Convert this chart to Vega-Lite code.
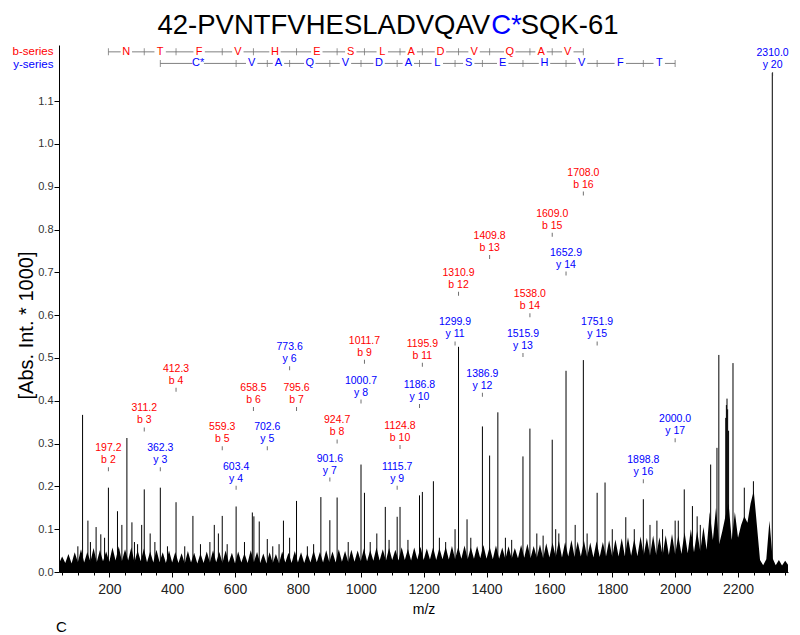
{
  "$schema": "https://vega.github.io/schema/vega-lite/v6.json",
  "background": "white",
  "padding": {"left": 16, "top": 11, "right": 4, "bottom": 4},
  "config": {
    "font": "Liberation Sans",
    "view": {"stroke": null},
    "axis": {"grid": false, "domainColor": "#000", "tickColor": "#000", "labelFont": "Liberation Sans", "titleFont": "Liberation Sans", "titleColor": "#000"},
    "text": {"font": "Liberation Sans"},
    "legend": {"labelFont": "Liberation Sans"},
    "title": {"font": "Liberation Sans"}
  },
  "title": {"text": "C", "orient": "bottom", "anchor": "start", "fontSize": 15, "fontWeight": "normal", "color": "#000", "dx": 40, "offset": 4},
  "resolve": {"scale": {"color": "independent"}},
  "datasets": {
    "ions": [
      {"mz": 197.2, "ion": "b 2", "s": "b", "h": 0.240},
      {"mz": 311.2, "ion": "b 3", "s": "b", "h": 0.333},
      {"mz": 412.3, "ion": "b 4", "s": "b", "h": 0.426},
      {"mz": 559.3, "ion": "b 5", "s": "b", "h": 0.289},
      {"mz": 658.5, "ion": "b 6", "s": "b", "h": 0.381},
      {"mz": 795.6, "ion": "b 7", "s": "b", "h": 0.381},
      {"mz": 924.7, "ion": "b 8", "s": "b", "h": 0.305},
      {"mz": 1011.7, "ion": "b 9", "s": "b", "h": 0.491},
      {"mz": 1124.8, "ion": "b 10", "s": "b", "h": 0.292},
      {"mz": 1195.9, "ion": "b 11", "s": "b", "h": 0.484},
      {"mz": 1310.9, "ion": "b 12", "s": "b", "h": 0.650},
      {"mz": 1409.8, "ion": "b 13", "s": "b", "h": 0.736},
      {"mz": 1538.0, "ion": "b 14", "s": "b", "h": 0.600},
      {"mz": 1609.0, "ion": "b 15", "s": "b", "h": 0.788},
      {"mz": 1708.0, "ion": "b 16", "s": "b", "h": 0.884},
      {"mz": 362.3, "ion": "y 3", "s": "y", "h": 0.240},
      {"mz": 603.4, "ion": "y 4", "s": "y", "h": 0.197},
      {"mz": 702.6, "ion": "y 5", "s": "y", "h": 0.289},
      {"mz": 773.6, "ion": "y 6", "s": "y", "h": 0.476},
      {"mz": 901.6, "ion": "y 7", "s": "y", "h": 0.216},
      {"mz": 1000.7, "ion": "y 8", "s": "y", "h": 0.398},
      {"mz": 1115.7, "ion": "y 9", "s": "y", "h": 0.197},
      {"mz": 1186.8, "ion": "y 10", "s": "y", "h": 0.388},
      {"mz": 1299.9, "ion": "y 11", "s": "y", "h": 0.534},
      {"mz": 1386.9, "ion": "y 12", "s": "y", "h": 0.414},
      {"mz": 1515.9, "ion": "y 13", "s": "y", "h": 0.507},
      {"mz": 1652.9, "ion": "y 14", "s": "y", "h": 0.697},
      {"mz": 1751.9, "ion": "y 15", "s": "y", "h": 0.534},
      {"mz": 1898.8, "ion": "y 16", "s": "y", "h": 0.212},
      {"mz": 2000.0, "ion": "y 17", "s": "y", "h": 0.308},
      {"mz": 2310.0, "ion": "y 20", "s": "y", "h": 1.163}
    ],
    "residues": [
      {"r": "N", "s": "b", "from": 197.2, "to": 311.2},
      {"r": "T", "s": "b", "from": 311.2, "to": 412.3},
      {"r": "F", "s": "b", "from": 412.3, "to": 559.3},
      {"r": "V", "s": "b", "from": 559.3, "to": 658.5},
      {"r": "H", "s": "b", "from": 658.5, "to": 795.6},
      {"r": "E", "s": "b", "from": 795.6, "to": 924.7},
      {"r": "S", "s": "b", "from": 924.7, "to": 1011.7},
      {"r": "L", "s": "b", "from": 1011.7, "to": 1124.8},
      {"r": "A", "s": "b", "from": 1124.8, "to": 1195.9},
      {"r": "D", "s": "b", "from": 1195.9, "to": 1310.9},
      {"r": "V", "s": "b", "from": 1310.9, "to": 1409.8},
      {"r": "Q", "s": "b", "from": 1409.8, "to": 1538.0},
      {"r": "A", "s": "b", "from": 1538.0, "to": 1609.0},
      {"r": "V", "s": "b", "from": 1609.0, "to": 1708.0},
      {"r": "C*", "s": "y", "from": 362.3, "to": 603.4},
      {"r": "V", "s": "y", "from": 603.4, "to": 702.6},
      {"r": "A", "s": "y", "from": 702.6, "to": 773.6},
      {"r": "Q", "s": "y", "from": 773.6, "to": 901.6},
      {"r": "V", "s": "y", "from": 901.6, "to": 1000.7},
      {"r": "D", "s": "y", "from": 1000.7, "to": 1115.7},
      {"r": "A", "s": "y", "from": 1115.7, "to": 1186.8},
      {"r": "L", "s": "y", "from": 1186.8, "to": 1299.9},
      {"r": "S", "s": "y", "from": 1299.9, "to": 1386.9},
      {"r": "E", "s": "y", "from": 1386.9, "to": 1515.9},
      {"r": "H", "s": "y", "from": 1515.9, "to": 1652.9},
      {"r": "V", "s": "y", "from": 1652.9, "to": 1751.9},
      {"r": "F", "s": "y", "from": 1751.9, "to": 1898.8},
      {"r": "T", "s": "y", "from": 1898.8, "to": 2000.0}
    ],
    "peaks": [
      {"mz": 115, "i": 0.367}, {"mz": 132, "i": 0.12}, {"mz": 158, "i": 0.105}, {"mz": 173, "i": 0.088},
      {"mz": 197.2, "i": 0.197}, {"mz": 226, "i": 0.142}, {"mz": 240, "i": 0.11}, {"mz": 256, "i": 0.313},
      {"mz": 272, "i": 0.116}, {"mz": 303, "i": 0.11}, {"mz": 311.2, "i": 0.193}, {"mz": 330, "i": 0.09},
      {"mz": 362.3, "i": 0.197}, {"mz": 412.3, "i": 0.163}, {"mz": 466, "i": 0.131}, {"mz": 534, "i": 0.11},
      {"mz": 547, "i": 0.09}, {"mz": 559.3, "i": 0.131}, {"mz": 603.4, "i": 0.153}, {"mz": 655, "i": 0.139},
      {"mz": 660, "i": 0.13}, {"mz": 677, "i": 0.118}, {"mz": 702.6, "i": 0.077}, {"mz": 754, "i": 0.12},
      {"mz": 773.6, "i": 0.08}, {"mz": 795.6, "i": 0.166}, {"mz": 873, "i": 0.175}, {"mz": 901.6, "i": 0.121},
      {"mz": 924.7, "i": 0.174}, {"mz": 1000.7, "i": 0.251}, {"mz": 1011.7, "i": 0.185}, {"mz": 1051, "i": 0.09},
      {"mz": 1078, "i": 0.152}, {"mz": 1115.7, "i": 0.129}, {"mz": 1124.8, "i": 0.152}, {"mz": 1186.8, "i": 0.179},
      {"mz": 1195.9, "i": 0.187}, {"mz": 1231, "i": 0.212}, {"mz": 1299.9, "i": 0.1}, {"mz": 1310.9, "i": 0.526},
      {"mz": 1338, "i": 0.123}, {"mz": 1386.9, "i": 0.34}, {"mz": 1409.8, "i": 0.272}, {"mz": 1436, "i": 0.373},
      {"mz": 1515.9, "i": 0.27}, {"mz": 1538.0, "i": 0.335}, {"mz": 1609.0, "i": 0.309}, {"mz": 1652.9, "i": 0.47},
      {"mz": 1682, "i": 0.11}, {"mz": 1708.0, "i": 0.495}, {"mz": 1751.9, "i": 0.185}, {"mz": 1777, "i": 0.209},
      {"mz": 1843, "i": 0.128}, {"mz": 1898.8, "i": 0.17}, {"mz": 1942, "i": 0.12}, {"mz": 2000.0, "i": 0.12},
      {"mz": 2029, "i": 0.193}, {"mz": 2055, "i": 0.154}, {"mz": 2113, "i": 0.251}, {"mz": 2133, "i": 0.29},
      {"mz": 2139, "i": 0.507}, {"mz": 2161, "i": 0.36}, {"mz": 2163, "i": 0.39}, {"mz": 2165, "i": 0.405},
      {"mz": 2167, "i": 0.38}, {"mz": 2170, "i": 0.33}, {"mz": 2184, "i": 0.488}, {"mz": 2220, "i": 0.197},
      {"mz": 2249, "i": 0.212}, {"mz": 2309, "i": 1.166},
      {"mz": 100, "i": 0.06}, {"mz": 140, "i": 0.07}, {"mz": 185, "i": 0.08}, {"mz": 280, "i": 0.07},
      {"mz": 290, "i": 0.065}, {"mz": 345, "i": 0.07}, {"mz": 385, "i": 0.06}, {"mz": 440, "i": 0.06},
      {"mz": 490, "i": 0.065}, {"mz": 520, "i": 0.07}, {"mz": 575, "i": 0.065}, {"mz": 630, "i": 0.07},
      {"mz": 720, "i": 0.06}, {"mz": 740, "i": 0.065}, {"mz": 830, "i": 0.06}, {"mz": 850, "i": 0.065},
      {"mz": 960, "i": 0.07}, {"mz": 1030, "i": 0.07}, {"mz": 1090, "i": 0.075}, {"mz": 1150, "i": 0.075},
      {"mz": 1250, "i": 0.08}, {"mz": 1270, "i": 0.07}, {"mz": 1350, "i": 0.08}, {"mz": 1460, "i": 0.08},
      {"mz": 1480, "i": 0.075}, {"mz": 1560, "i": 0.09}, {"mz": 1580, "i": 0.085}, {"mz": 1620, "i": 0.1},
      {"mz": 1630, "i": 0.09}, {"mz": 1720, "i": 0.09}, {"mz": 1800, "i": 0.1}, {"mz": 1870, "i": 0.1},
      {"mz": 1920, "i": 0.11}, {"mz": 1960, "i": 0.1}, {"mz": 2010, "i": 0.12}, {"mz": 2070, "i": 0.13},
      {"mz": 2080, "i": 0.11}
    ],
    "noise": [
      {"m": 40, "v": 0.020}, {"m": 50, "v": 0.036}, {"m": 60, "v": 0.021}, {"m": 70, "v": 0.042}, {"m": 80, "v": 0.020},
      {"m": 90, "v": 0.046}, {"m": 100, "v": 0.023}, {"m": 110, "v": 0.053}, {"m": 120, "v": 0.022}, {"m": 130, "v": 0.047},
      {"m": 140, "v": 0.024}, {"m": 150, "v": 0.056}, {"m": 160, "v": 0.023}, {"m": 170, "v": 0.051}, {"m": 180, "v": 0.025},
      {"m": 190, "v": 0.048}, {"m": 200, "v": 0.024}, {"m": 210, "v": 0.057}, {"m": 220, "v": 0.027}, {"m": 230, "v": 0.060},
      {"m": 240, "v": 0.025}, {"m": 250, "v": 0.053}, {"m": 260, "v": 0.027}, {"m": 270, "v": 0.058}, {"m": 280, "v": 0.023},
      {"m": 290, "v": 0.050}, {"m": 300, "v": 0.025}, {"m": 310, "v": 0.055}, {"m": 320, "v": 0.023}, {"m": 330, "v": 0.048},
      {"m": 340, "v": 0.022}, {"m": 350, "v": 0.052}, {"m": 360, "v": 0.023}, {"m": 370, "v": 0.046}, {"m": 380, "v": 0.021},
      {"m": 390, "v": 0.050}, {"m": 400, "v": 0.022}, {"m": 410, "v": 0.047}, {"m": 420, "v": 0.021}, {"m": 430, "v": 0.044},
      {"m": 440, "v": 0.020}, {"m": 450, "v": 0.049}, {"m": 460, "v": 0.022}, {"m": 470, "v": 0.045}, {"m": 480, "v": 0.020},
      {"m": 490, "v": 0.043}, {"m": 500, "v": 0.021}, {"m": 510, "v": 0.048}, {"m": 520, "v": 0.022}, {"m": 530, "v": 0.051},
      {"m": 540, "v": 0.023}, {"m": 550, "v": 0.047}, {"m": 560, "v": 0.021}, {"m": 570, "v": 0.050}, {"m": 580, "v": 0.022},
      {"m": 590, "v": 0.045}, {"m": 600, "v": 0.020}, {"m": 610, "v": 0.048}, {"m": 620, "v": 0.022}, {"m": 630, "v": 0.044},
      {"m": 640, "v": 0.021}, {"m": 650, "v": 0.051}, {"m": 660, "v": 0.023}, {"m": 670, "v": 0.047}, {"m": 680, "v": 0.021},
      {"m": 690, "v": 0.043}, {"m": 700, "v": 0.020}, {"m": 710, "v": 0.046}, {"m": 720, "v": 0.021}, {"m": 730, "v": 0.042},
      {"m": 740, "v": 0.020}, {"m": 750, "v": 0.048}, {"m": 760, "v": 0.022}, {"m": 770, "v": 0.045}, {"m": 780, "v": 0.021},
      {"m": 790, "v": 0.049}, {"m": 800, "v": 0.022}, {"m": 810, "v": 0.046}, {"m": 820, "v": 0.021}, {"m": 830, "v": 0.044},
      {"m": 840, "v": 0.022}, {"m": 850, "v": 0.050}, {"m": 860, "v": 0.023}, {"m": 870, "v": 0.047}, {"m": 880, "v": 0.022},
      {"m": 890, "v": 0.051}, {"m": 900, "v": 0.023}, {"m": 910, "v": 0.048}, {"m": 920, "v": 0.022}, {"m": 930, "v": 0.053},
      {"m": 940, "v": 0.024}, {"m": 950, "v": 0.049}, {"m": 960, "v": 0.023}, {"m": 970, "v": 0.052}, {"m": 980, "v": 0.024},
      {"m": 990, "v": 0.050}, {"m": 1000, "v": 0.025}, {"m": 1010, "v": 0.055}, {"m": 1020, "v": 0.025}, {"m": 1030, "v": 0.051},
      {"m": 1040, "v": 0.026}, {"m": 1050, "v": 0.057}, {"m": 1060, "v": 0.027}, {"m": 1070, "v": 0.053}, {"m": 1080, "v": 0.026},
      {"m": 1090, "v": 0.056}, {"m": 1100, "v": 0.028}, {"m": 1110, "v": 0.052}, {"m": 1120, "v": 0.027}, {"m": 1130, "v": 0.058},
      {"m": 1140, "v": 0.028}, {"m": 1150, "v": 0.054}, {"m": 1160, "v": 0.027}, {"m": 1170, "v": 0.057}, {"m": 1180, "v": 0.029},
      {"m": 1190, "v": 0.059}, {"m": 1200, "v": 0.028}, {"m": 1210, "v": 0.055}, {"m": 1220, "v": 0.029}, {"m": 1230, "v": 0.058},
      {"m": 1240, "v": 0.028}, {"m": 1250, "v": 0.056}, {"m": 1260, "v": 0.030}, {"m": 1270, "v": 0.059}, {"m": 1280, "v": 0.029},
      {"m": 1290, "v": 0.061}, {"m": 1300, "v": 0.030}, {"m": 1310, "v": 0.059}, {"m": 1320, "v": 0.031}, {"m": 1330, "v": 0.062},
      {"m": 1340, "v": 0.030}, {"m": 1350, "v": 0.058}, {"m": 1360, "v": 0.031}, {"m": 1370, "v": 0.061}, {"m": 1380, "v": 0.032},
      {"m": 1390, "v": 0.063}, {"m": 1400, "v": 0.031}, {"m": 1410, "v": 0.059}, {"m": 1420, "v": 0.030}, {"m": 1430, "v": 0.062},
      {"m": 1440, "v": 0.031}, {"m": 1450, "v": 0.057}, {"m": 1460, "v": 0.030}, {"m": 1470, "v": 0.060}, {"m": 1480, "v": 0.031},
      {"m": 1490, "v": 0.056}, {"m": 1500, "v": 0.032}, {"m": 1510, "v": 0.063}, {"m": 1520, "v": 0.033}, {"m": 1530, "v": 0.066},
      {"m": 1540, "v": 0.032}, {"m": 1550, "v": 0.061}, {"m": 1560, "v": 0.033}, {"m": 1570, "v": 0.064}, {"m": 1580, "v": 0.032},
      {"m": 1590, "v": 0.067}, {"m": 1600, "v": 0.034}, {"m": 1610, "v": 0.069}, {"m": 1620, "v": 0.035}, {"m": 1630, "v": 0.073},
      {"m": 1640, "v": 0.034}, {"m": 1650, "v": 0.070}, {"m": 1660, "v": 0.036}, {"m": 1670, "v": 0.075}, {"m": 1680, "v": 0.035},
      {"m": 1690, "v": 0.071}, {"m": 1700, "v": 0.036}, {"m": 1710, "v": 0.073}, {"m": 1720, "v": 0.035}, {"m": 1730, "v": 0.069},
      {"m": 1740, "v": 0.034}, {"m": 1750, "v": 0.072}, {"m": 1760, "v": 0.035}, {"m": 1770, "v": 0.070}, {"m": 1780, "v": 0.036},
      {"m": 1790, "v": 0.074}, {"m": 1800, "v": 0.035}, {"m": 1810, "v": 0.076}, {"m": 1820, "v": 0.036}, {"m": 1830, "v": 0.079},
      {"m": 1840, "v": 0.037}, {"m": 1850, "v": 0.081}, {"m": 1860, "v": 0.038}, {"m": 1870, "v": 0.077}, {"m": 1880, "v": 0.037},
      {"m": 1890, "v": 0.083}, {"m": 1900, "v": 0.039}, {"m": 1910, "v": 0.080}, {"m": 1920, "v": 0.038}, {"m": 1930, "v": 0.085},
      {"m": 1940, "v": 0.039}, {"m": 1950, "v": 0.081}, {"m": 1960, "v": 0.038}, {"m": 1970, "v": 0.086}, {"m": 1980, "v": 0.040},
      {"m": 1990, "v": 0.089}, {"m": 2000, "v": 0.041}, {"m": 2010, "v": 0.085}, {"m": 2020, "v": 0.042}, {"m": 2030, "v": 0.093},
      {"m": 2040, "v": 0.044}, {"m": 2050, "v": 0.100}, {"m": 2060, "v": 0.046}, {"m": 2070, "v": 0.096}, {"m": 2080, "v": 0.048},
      {"m": 2090, "v": 0.105}, {"m": 2100, "v": 0.052}, {"m": 2110, "v": 0.140}, {"m": 2120, "v": 0.075}, {"m": 2130, "v": 0.150},
      {"m": 2140, "v": 0.065}, {"m": 2150, "v": 0.095}, {"m": 2160, "v": 0.130}, {"m": 2170, "v": 0.160}, {"m": 2180, "v": 0.075},
      {"m": 2190, "v": 0.140}, {"m": 2200, "v": 0.080}, {"m": 2210, "v": 0.110}, {"m": 2220, "v": 0.130}, {"m": 2230, "v": 0.115},
      {"m": 2240, "v": 0.160}, {"m": 2250, "v": 0.190}, {"m": 2260, "v": 0.110}, {"m": 2270, "v": 0.028}, {"m": 2280, "v": 0.016},
      {"m": 2290, "v": 0.030}, {"m": 2300, "v": 0.120}, {"m": 2310, "v": 0.032}, {"m": 2320, "v": 0.016}, {"m": 2330, "v": 0.028},
      {"m": 2340, "v": 0.015}, {"m": 2350, "v": 0.026}, {"m": 2360, "v": 0.016}
    ]
  },
  "vconcat": [
    {
      "width": 729,
      "height": 527,
      "resolve": {"axis": {"x": "independent"}},
      "layer": [
        {
          "data": {"name": "noise"},
          "mark": {"type": "area", "color": "#000", "clip": true},
          "encoding": {
            "x": {"field": "m", "type": "quantitative", "scale": {"domain": [40, 2359], "nice": false, "zero": false},
              "axis": {
                "orient": "bottom",
                "values": [200, 400, 600, 800, 1000, 1200, 1400, 1600, 1800, 2000, 2200],
                "format": "d",
                "tickSize": 5,
                "labelFontSize": 14, "labelColor": "#222", "labelPadding": 5, "labelOverlap": false, "labelFlush": false,
                "title": "m/z", "titleFontSize": 14, "titleFontWeight": "normal", "titlePadding": 6
              }},
            "y": {"field": "v", "type": "quantitative", "scale": {"domain": [0, 1.231], "nice": false},
              "axis": {
                "values": [0,0.05,0.1,0.15,0.2,0.25,0.3,0.35,0.4,0.45,0.5,0.55,0.6,0.65,0.7,0.75,0.8,0.85,0.9,0.95,1.0,1.05,1.1,1.15],
                "labelExpr": "abs(datum.value*10 - round(datum.value*10)) < 0.001 ? format(datum.value, '.1f') : ''",
                "tickSize": {"condition": {"test": "abs(datum.value*10 - round(datum.value*10)) < 0.001", "value": 5}, "value": 3},
                "labelFontSize": 11, "labelColor": "#333", "labelPadding": 1, "labelOverlap": false, "labelFlush": false,
                "title": "[Abs. Int. * 1000]", "titleFontSize": 20, "titleFontWeight": "normal",
                "titleX": -23, "titleY": 280, "titleAngle": -90, "titleBaseline": "bottom", "titleAlign": "center"
              }}
          }
        },
        {
          "data": {"name": "peaks"},
          "mark": {"type": "rule", "color": "#000", "strokeWidth": 1},
          "encoding": {
            "x": {"field": "mz", "type": "quantitative",
              "axis": {"orient": "bottom", "values": [50,100,150,250,300,350,450,500,550,650,700,750,850,900,950,1050,1100,1150,1250,1300,1350,1450,1500,1550,1650,1700,1750,1850,1900,1950,2050,2100,2150,2250,2300,2350],
                "labels": false, "domain": false, "tickSize": 3, "grid": false,
                "title": "C*", "titleColor": "#0000ff", "titleFontSize": 27.5, "titleFontWeight": "normal",
                "titleX": 447, "titleY": -539, "titleAlign": "center", "titleBaseline": "alphabetic", "titleAngle": 0}},
            "y": {"field": "i", "type": "quantitative"},
            "y2": {"datum": 0}
          }
        },
        {
          "data": {"name": "ions"},
          "mark": {"type": "tick", "orient": "vertical", "size": 4, "thickness": 1, "color": "#333"},
          "encoding": {
            "x": {"field": "mz", "type": "quantitative",
              "axis": {"orient": "bottom", "ticks": false, "labels": false, "domain": false, "grid": false,
                "title": "42-PVNTFVHESLADVQAV\u00a0\u00a0\u00a0\u00a0SQK-61", "titleColor": "#000", "titleFontSize": 27.5, "titleFontWeight": "normal",
                "titleX": 328.5, "titleY": -539, "titleAlign": "center", "titleBaseline": "alphabetic", "titleAngle": 0}},
            "y": {"field": "h", "type": "quantitative"}
          }
        },
        {
          "data": {"name": "ions"},
          "mark": {"type": "text", "dy": -21, "fontSize": 10.5, "align": "center", "baseline": "middle"},
          "encoding": {
            "x": {"field": "mz", "type": "quantitative", "axis": null},
            "y": {"field": "h", "type": "quantitative"},
            "text": {"field": "mz", "type": "quantitative", "format": ".1f"},
            "color": {"field": "s", "type": "nominal",
              "scale": {"domain": ["b", "y"], "range": ["#ff0000", "#0000ff"]},
              "legend": {"orient": "none", "legendX": -17, "legendY": 1, "title": null,
                "labelExpr": "datum.value === 'b' ? 'b-series' : 'y-series'",
                "labelAlign": "right",
                "symbolOpacity": 0, "symbolSize": 0, "symbolStrokeWidth": 0,
                "labelFontSize": 11.5, "labelOffset": 0, "padding": 0, "rowPadding": 0,
                "encoding": {"labels": {"fill": {"condition": {"test": "datum.value === 'b'", "value": "#ff0000"}, "value": "#0000ff"}}}}}
          }
        },
        {
          "data": {"name": "ions"},
          "mark": {"type": "text", "dy": -9, "fontSize": 10.5, "align": "center", "baseline": "middle"},
          "encoding": {
            "x": {"field": "mz", "type": "quantitative", "axis": null},
            "y": {"field": "h", "type": "quantitative"},
            "text": {"field": "ion", "type": "nominal"},
            "color": {"field": "s", "type": "nominal"}
          }
        },
        {
          "data": {"name": "residues"},
          "transform": [{"filter": "datum.s === 'b'"}],
          "mark": {"type": "rule", "color": "#808080", "strokeWidth": 1},
          "encoding": {
            "x": {"field": "from", "type": "quantitative", "axis": null},
            "x2": {"field": "to"},
            "y": {"datum": 1.215, "type": "quantitative"}
          }
        },
        {
          "data": {"name": "residues"},
          "transform": [{"filter": "datum.s === 'y'"}],
          "mark": {"type": "rule", "color": "#808080", "strokeWidth": 1},
          "encoding": {
            "x": {"field": "from", "type": "quantitative", "axis": null},
            "x2": {"field": "to"},
            "y": {"datum": 1.188, "type": "quantitative"}
          }
        },
        {
          "data": {"name": "residues"},
          "transform": [{"filter": "datum.s === 'b'"}, {"calculate": "(datum.from + datum.to) / 2", "as": "mid"}],
          "mark": {"type": "point", "shape": "square", "filled": true, "color": "white", "opacity": 1, "size": 130},
          "encoding": {
            "x": {"field": "mid", "type": "quantitative", "axis": null},
            "y": {"datum": 1.215, "type": "quantitative"}
          }
        },
        {
          "data": {"name": "residues"},
          "transform": [{"filter": "datum.s === 'y'"}, {"calculate": "(datum.from + datum.to) / 2", "as": "mid"}],
          "mark": {"type": "point", "shape": "square", "filled": true, "color": "white", "opacity": 1, "size": 130},
          "encoding": {
            "x": {"field": "mid", "type": "quantitative", "axis": null},
            "y": {"datum": 1.188, "type": "quantitative"}
          }
        },
        {
          "data": {"name": "ions"},
          "transform": [{"filter": "datum.s === 'b'"}],
          "mark": {"type": "tick", "orient": "vertical", "size": 7, "thickness": 1, "color": "#666"},
          "encoding": {
            "x": {"field": "mz", "type": "quantitative", "axis": null},
            "y": {"datum": 1.215, "type": "quantitative"}
          }
        },
        {
          "data": {"name": "ions"},
          "transform": [{"filter": "datum.s === 'y' && datum.mz <= 2000"}],
          "mark": {"type": "tick", "orient": "vertical", "size": 7, "thickness": 1, "color": "#666"},
          "encoding": {
            "x": {"field": "mz", "type": "quantitative", "axis": null},
            "y": {"datum": 1.188, "type": "quantitative"}
          }
        },
        {
          "data": {"name": "residues"},
          "transform": [{"filter": "datum.s === 'b'"}, {"calculate": "(datum.from + datum.to) / 2", "as": "mid"}],
          "mark": {"type": "text", "fontSize": 11, "align": "center", "baseline": "middle"},
          "encoding": {
            "x": {"field": "mid", "type": "quantitative", "axis": null},
            "y": {"datum": 1.215, "type": "quantitative"},
            "text": {"field": "r", "type": "nominal"},
            "color": {"field": "s", "type": "nominal"}
          }
        },
        {
          "data": {"name": "residues"},
          "transform": [{"filter": "datum.s === 'y'"}, {"calculate": "(datum.from + datum.to) / 2", "as": "mid"}],
          "mark": {"type": "text", "fontSize": 11, "align": "center", "baseline": "middle"},
          "encoding": {
            "x": {"field": "mid", "type": "quantitative", "axis": null},
            "y": {"datum": 1.188, "type": "quantitative"},
            "text": {"field": "r", "type": "nominal"},
            "color": {"field": "s", "type": "nominal"}
          }
        }
      ]
    }
  ]
}
